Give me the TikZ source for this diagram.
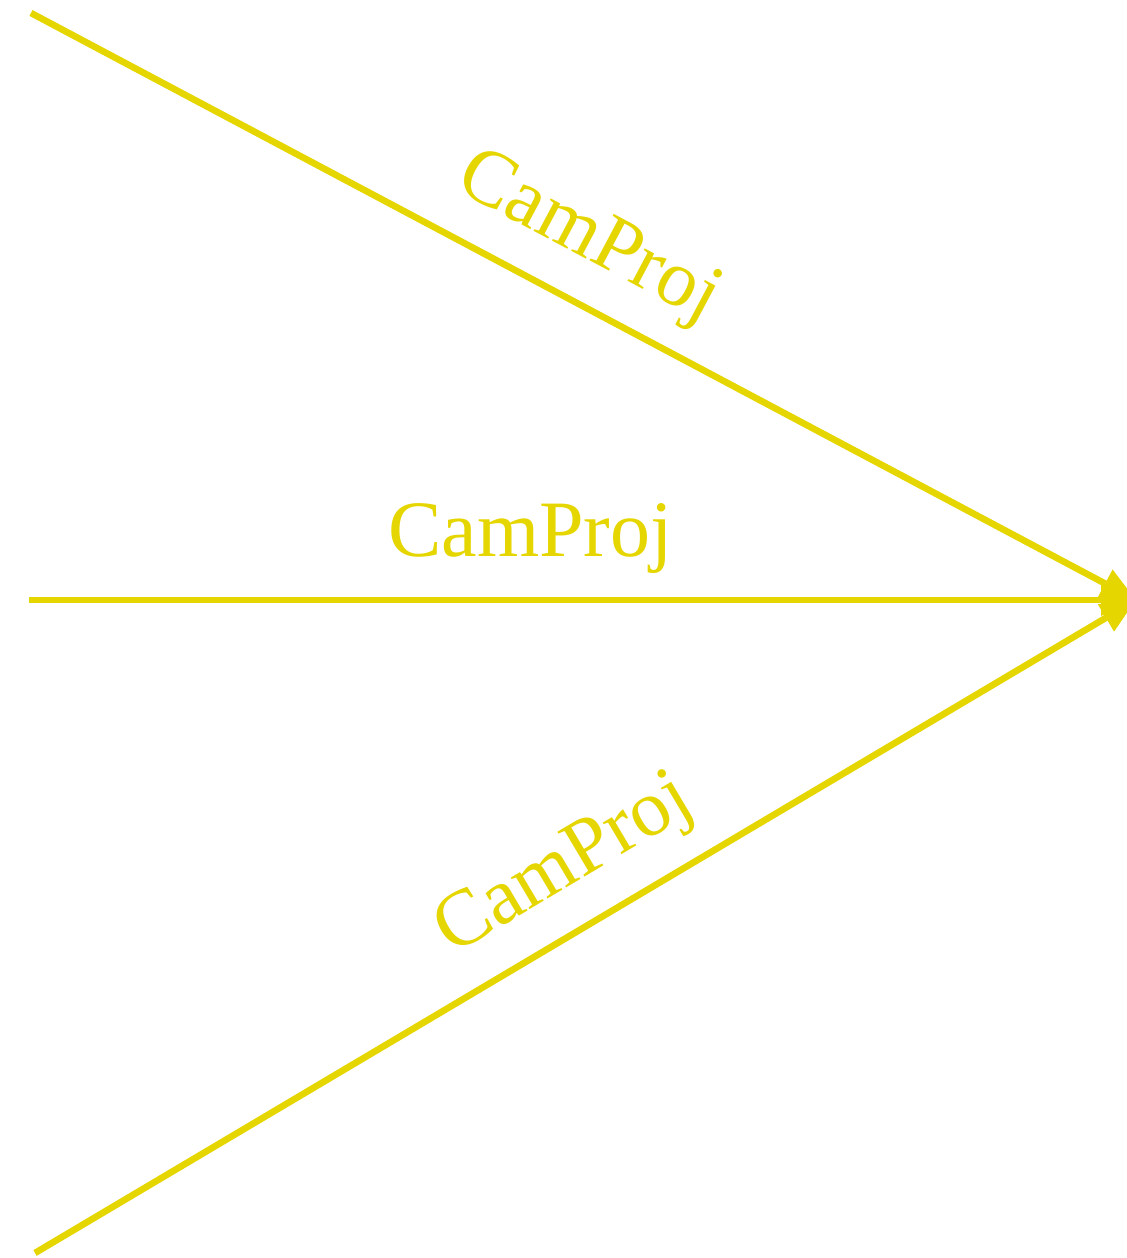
\documentclass[tikz,border=0pt]{standalone}
\usepackage{fontspec}
\setmainfont{Liberation Serif}
\usetikzlibrary{arrows.meta}
\definecolor{camyellow}{RGB}{230,214,0}

\begin{document}
\begin{tikzpicture}[x=0.5pt,y=0.5pt,
  projline/.style={draw=camyellow,line width=3.3pt,line cap=butt,
    -{Triangle[length=17.5pt,width=15pt]}},
  projlabel/.style={text=camyellow,font=\fontsize{40}{44}\selectfont,
    above=8pt,sloped}]
\useasboundingbox (0,0) rectangle (1127,1258);

%Target point where the three projections meet
\coordinate (cam) at (1136,658);
%Start points of the projections
\coordinate (srcTop) at (31,1245);
\coordinate (srcMid) at (29,658);
\coordinate (srcBot) at (35,5);

%Straight Lines [top]
\draw [projline] (srcTop) -- node[projlabel,pos=0.478] (lblTop) {CamProj} (cam);
%Straight Lines [middle]
\draw [projline] (srcMid) -- node[projlabel,pos=0.453] (lblMid) {CamProj} (cam);
%Straight Lines [bottom]
\draw [projline] (srcBot) -- node[projlabel,pos=0.51] (lblBot) {CamProj} (cam);

\end{tikzpicture}
\end{document}
